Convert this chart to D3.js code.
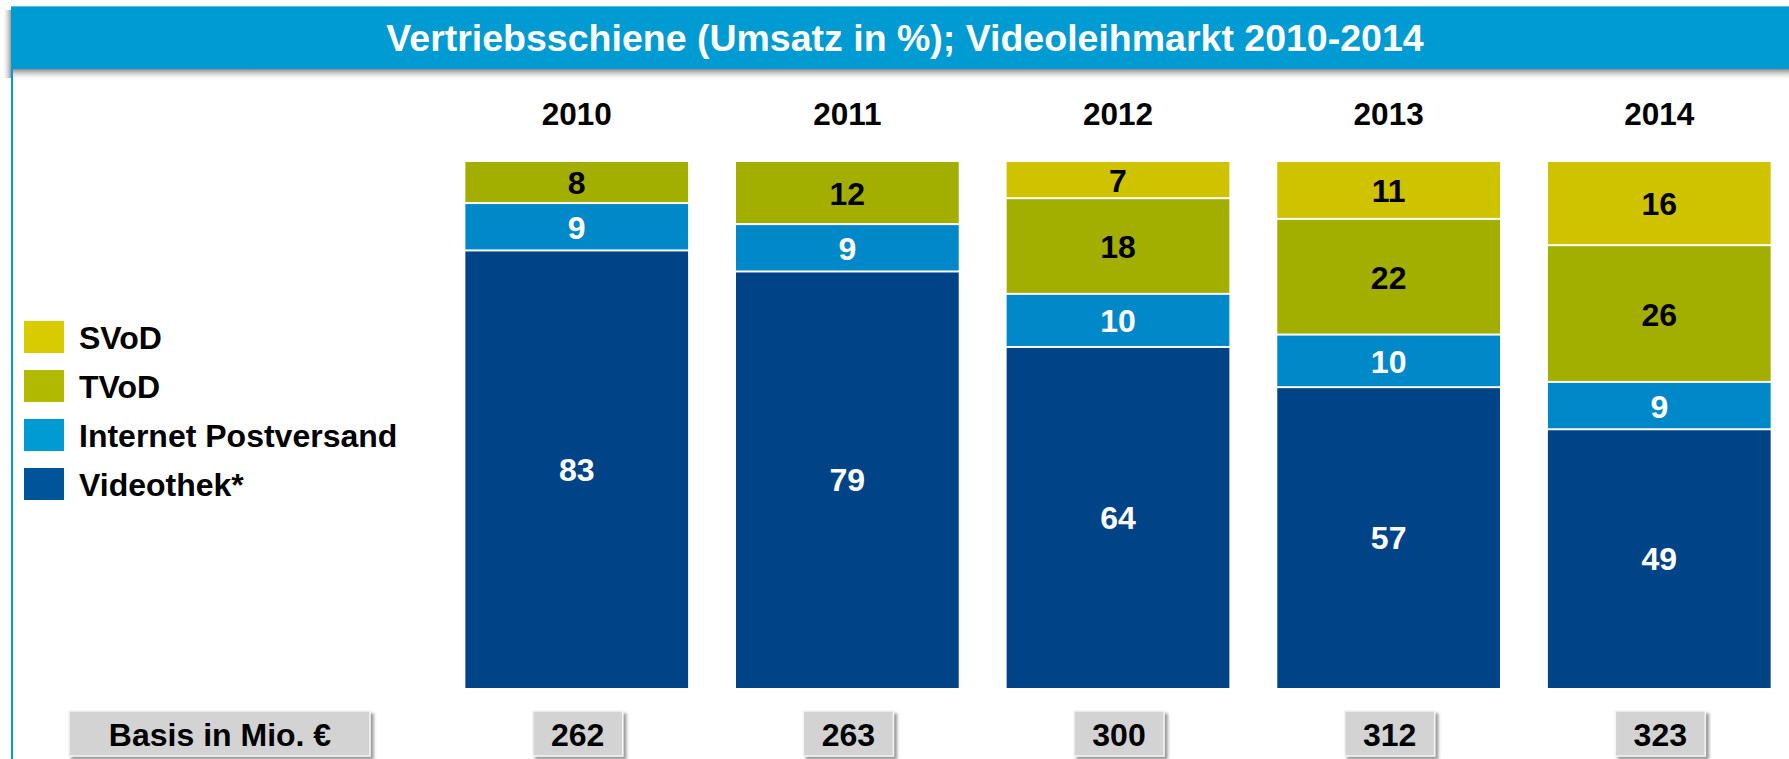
<!DOCTYPE html>
<html>
<head>
<meta charset="utf-8">
<script src="https://cdnjs.cloudflare.com/ajax/libs/d3/7.8.5/d3.min.js"></script>
<style>
  body { margin: 0; background: #fff; }
  text { font-family: "Liberation Sans", Arial, sans-serif; font-weight: bold; }
</style>
</head>
<body>
<div id="chart"></div>
<script>
// data (Umsatz in %)
var years = ["2010", "2011", "2012", "2013", "2014"];
var series = ["Videothek*", "Internet Postversand", "TVoD", "SVoD"];
var videothek = [83, 79, 64, 57, 49];
var internet = [9, 9, 10, 10, 9];
var tvod = [8, 12, 18, 22, 26];
var svod = [0, 0, 7, 11, 16];
var basis = [262, 263, 300, 312, 323];
var title = "Vertriebsschiene (Umsatz in %); Videoleihmarkt 2010-2014";

var barColors = ["#014387", "#0088c8", "#a3af00", "#cfc300"];
var legendColors = ["#00559a", "#009bd2", "#b2ba00", "#d8cc00"];
var labelColors = ["#fff", "#fff", "#000", "#000"];

var W = 1789, H = 759;

var svg = d3.select("#chart")
    .append("svg")
    .attr("width", W)
    .attr("height", H);

var defs = svg.append("defs");
var grad = defs.append("linearGradient")
    .attr("id", "shadowGrad")
    .attr("x1", 0).attr("y1", 0).attr("x2", 0).attr("y2", 1);
grad.append("stop").attr("offset", "0%").attr("stop-color", "#8a8a8a");
grad.append("stop").attr("offset", "100%").attr("stop-color", "#fff").attr("stop-opacity", 0);

var gradL = defs.append("linearGradient")
    .attr("id", "shadowGradL")
    .attr("x1", 1).attr("y1", 0).attr("x2", 0).attr("y2", 0);
gradL.append("stop").attr("offset", "0%").attr("stop-color", "#9a9a9a");
gradL.append("stop").attr("offset", "100%").attr("stop-color", "#fff").attr("stop-opacity", 0);

var boxShadow = defs.append("filter").attr("id", "boxShadow")
    .attr("x", "-10%").attr("y", "-20%").attr("width", "130%").attr("height", "160%");
boxShadow.append("feDropShadow")
    .attr("dx", 3).attr("dy", 3).attr("stdDeviation", 1.5)
    .attr("flood-color", "#555").attr("flood-opacity", 0.6);

// title bar with shadow
svg.append("rect").attr("x", 2).attr("y", 10).attr("width", 9).attr("height", 68)
    .attr("fill", "url(#shadowGradL)");
svg.append("rect").attr("x", 11).attr("y", 69).attr("width", W - 11).attr("height", 12)
    .attr("fill", "url(#shadowGrad)");
svg.append("rect").attr("x", 11).attr("y", 6).attr("width", W - 11).attr("height", 63)
    .attr("fill", "#009bd3");
svg.append("line").attr("x1", 11).attr("x2", W).attr("y1", 6.5).attr("y2", 6.5)
    .attr("stroke", "#5cc0e4").attr("stroke-width", 1);
svg.append("text")
    .attr("x", 905).attr("y", 51)
    .attr("text-anchor", "middle")
    .attr("fill", "#fff")
    .style("font-size", "37.5px")
    .text(title);

// left frame line
svg.append("rect").attr("x", 11).attr("y", 69).attr("width", 2).attr("height", H - 69)
    .attr("fill", "#009bd3");

// stacked bars
var table = years.map(function (y, i) {
    return { year: y, "Videothek*": videothek[i], "Internet Postversand": internet[i], "TVoD": tvod[i], "SVoD": svod[i] };
});

var stacked = d3.stack().keys(series).offset(d3.stackOffsetExpand)(table);

var x = d3.scaleBand().domain(years).range([441, 1795]).paddingInner(0.177).paddingOuter(0.09);
var y = d3.scaleLinear().domain([0, 1]).range([688, 162]);

var layer = svg.selectAll("g.layer")
    .data(stacked)
    .enter().append("g")
    .attr("class", "layer");

layer.selectAll("rect")
    .data(function (s, si) { return s.map(function (d, i) { return { d: d, si: si, i: i, v: table[i][s.key] }; }); })
    .enter().filter(function (o) { return o.v > 0; })
    .append("rect")
    .attr("x", function (o) { return x(years[o.i]); })
    .attr("width", x.bandwidth())
    .attr("y", function (o) { return y(o.d[1]); })
    .attr("height", function (o) { return y(o.d[0]) - y(o.d[1]) - (o.d[0] > 0 ? 2 : 0); })
    .attr("fill", function (o) { return barColors[o.si]; });

layer.selectAll("text")
    .data(function (s, si) { return s.map(function (d, i) { return { d: d, si: si, i: i, v: table[i][s.key] }; }); })
    .enter().filter(function (o) { return o.v > 0; })
    .append("text")
    .attr("x", function (o) { return x(years[o.i]) + x.bandwidth() / 2; })
    .attr("y", function (o) { return (y(o.d[0]) + y(o.d[1])) / 2 + 11; })
    .attr("text-anchor", "middle")
    .attr("fill", function (o) { return labelColors[o.si]; })
    .style("font-size", "32px")
    .text(function (o) { return o.v; });

// year labels
svg.selectAll("text.year")
    .data(years)
    .enter().append("text")
    .attr("class", "year")
    .attr("x", function (d) { return x(d) + x.bandwidth() / 2; })
    .attr("y", 125)
    .attr("text-anchor", "middle")
    .attr("fill", "#000")
    .style("font-size", "31.5px")
    .text(function (d) { return d; });

// legend
var legendKeys = series.slice().reverse();
var legend = svg.selectAll("g.legend")
    .data(legendKeys)
    .enter().append("g")
    .attr("class", "legend")
    .attr("transform", function (d, i) { return "translate(24," + (321 + i * 49) + ")"; });

legend.append("rect")
    .attr("width", 40).attr("height", 32)
    .attr("fill", function (d) { return legendColors[series.indexOf(d)]; });

legend.append("text")
    .attr("x", 55).attr("y", 28)
    .attr("fill", "#000")
    .style("font-size", "32px")
    .text(function (d) { return d; });

// basis boxes
var boxG = svg.append("g");
boxG.append("rect")
    .attr("x", 69).attr("y", 711).attr("width", 301).attr("height", 45)
    .attr("fill", "#d3d3d3").attr("stroke", "#f4f4f4").attr("stroke-width", 1.5)
    .attr("filter", "url(#boxShadow)");
boxG.append("text")
    .attr("x", 220).attr("y", 746)
    .attr("text-anchor", "middle")
    .style("font-size", "32px")
    .text("Basis in Mio. €");

var basisG = boxG.selectAll("g.basis")
    .data(basis)
    .enter().append("g")
    .attr("class", "basis");

basisG.append("rect")
    .attr("x", function (d, i) { return x(years[i]) + x.bandwidth() / 2 - 44; })
    .attr("y", 711).attr("width", 90).attr("height", 45)
    .attr("fill", "#d3d3d3").attr("stroke", "#f4f4f4").attr("stroke-width", 1.5)
    .attr("filter", "url(#boxShadow)");

basisG.append("text")
    .attr("x", function (d, i) { return x(years[i]) + x.bandwidth() / 2 + 1; })
    .attr("y", 746)
    .attr("text-anchor", "middle")
    .style("font-size", "32px")
    .text(function (d) { return d; });
</script>
</body>
</html>
